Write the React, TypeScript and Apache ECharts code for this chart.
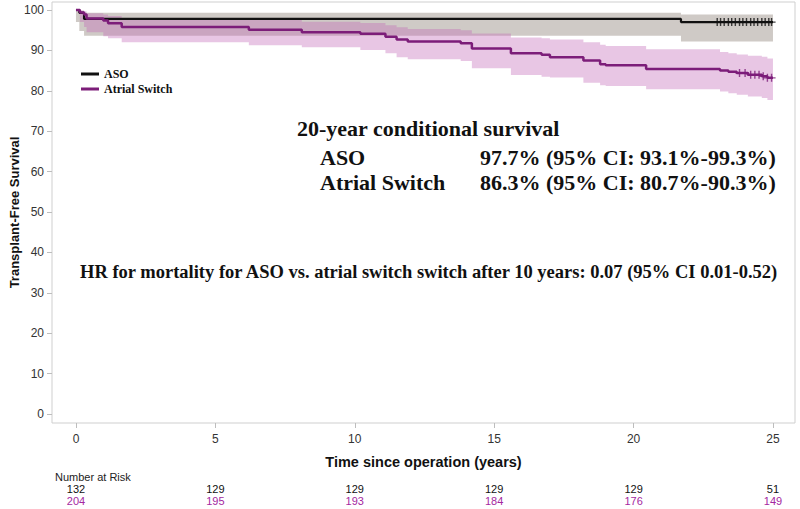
import React, { useEffect, useRef } from "react";
import * as echarts from "echarts";

// ---- Data ----
const xTicks = [0, 5, 10, 15, 20, 25];
const yTicks = [0, 10, 20, 30, 40, 50, 60, 70, 80, 90, 100];

// ASO Kaplan-Meier estimate
const asoTime = [0, 0.12, 0.29, 21.7, 25];
const asoSurv = [100, 99.3, 97.8, 97.0, 97.0];
const asoLower = [97.0, 94.8, 93.6, 92.2, 92.2];
const asoUpper = [100, 99.8, 99.3, 98.9, 98.9];
const asoCensor = [23.0, 23.12, 23.25, 23.4, 23.52, 23.65, 23.8, 23.92, 24.05, 24.2, 24.32, 24.45, 24.6, 24.72, 24.85, 24.95];

// Atrial switch Kaplan-Meier estimate
const asTime = [0, 0.14, 0.29, 0.38, 0.98, 1.15, 1.64, 6.2, 8.1, 10.2, 11.1, 11.5, 11.9, 13.8, 14.2, 15.6, 16.7, 17.0, 18.2, 18.8, 19.0, 20.45, 23.1, 23.4, 23.7, 24.1, 24.6, 24.8, 25.0];
const asSurv = [100, 99.4, 98.9, 97.9, 97.4, 96.7, 95.8, 95.1, 94.5, 94.1, 93.4, 92.7, 92.2, 91.75, 90.5, 89.3, 88.9, 88.3, 87.5, 86.6, 86.3, 85.4, 85.0, 84.7, 84.4, 84.0, 83.6, 83.2, 83.2];
const asUpper = [100, 99.9, 99.7, 99.2, 98.9, 98.5, 97.9, 97.5, 97.1, 96.8, 96.2, 95.7, 95.3, 95.0, 94.2, 93.2, 93.0, 92.7, 92.0, 91.4, 91.1, 90.3, 89.6, 89.3, 89.0, 88.7, 88.4, 88.0, 88.0];
const asLower = [100, 97.0, 95.8, 94.5, 93.5, 93.0, 92.0, 91.3, 90.8, 90.1, 89.3, 88.3, 87.8, 87.4, 85.6, 83.9, 83.5, 83.3, 82.0, 81.4, 81.2, 80.4, 79.8, 79.4, 79.0, 78.6, 78.2, 77.7, 77.7];
const asCensor = [23.8, 24.0, 24.2, 24.35, 24.5, 24.65, 24.8, 24.95];

// Number at risk
const riskASO = [132, 129, 129, 129, 129, 51];
const riskAS = [204, 195, 193, 184, 176, 149];

const BLACK = "#111111";
const PURPLE = "#7c1d79";
const RISK_PURPLE = "#a4289f";
const SERIF = "'Liberation Serif', 'Times New Roman', serif";
const SANS = "'Liberation Sans Narrow', 'Arial Narrow', 'Liberation Sans', Arial, sans-serif";
const SANS_B = "'Liberation Sans', Arial, sans-serif";

function stepAt(times: number[], vals: number[], t: number) {
  let v = vals[0];
  for (let i = 0; i < times.length; i++) if (times[i] <= t) v = vals[i];
  return v;
}

const pairs = (t: number[], v: number[]) => t.map((x, i) => [x, v[i]]);
const bandRows = (t: number[], lo: number[], hi: number[]) => t.map((x, i) => [x, lo[i], hi[i]]);

const X_MIN = -0.86;
const X_MAX = 25.79;

const plusSymbol = "path://M-0.7,-4H0.7V-0.7H4V0.7H0.7V4H-0.7V0.7H-4V-0.7H-0.7Z";

function bandSeries(name: string, rows: number[][], fill: string) {
  return {
    name,
    type: "custom",
    silent: true,
    data: rows,
    encode: { x: 0, y: [1, 2] },
    z: 1,
    renderItem: (params: any, api: any) => {
      if (params.dataIndex !== 0) return null;
      const top: number[][] = [];
      const bottom: number[][] = [];
      for (let i = 0; i < rows.length; i++) {
        const t0 = rows[i][0];
        const t1 = i + 1 < rows.length ? rows[i + 1][0] : rows[i][0];
        top.push(api.coord([t0, rows[i][2]]));
        top.push(api.coord([t1, rows[i][2]]));
        bottom.push(api.coord([t0, rows[i][1]]));
        bottom.push(api.coord([t1, rows[i][1]]));
      }
      const points = top.concat(bottom.reverse());
      return { type: "polygon", shape: { points }, style: { fill } };
    },
  };
}

export default function App() {
  const ref = useRef<HTMLDivElement>(null);
  useEffect(() => {
    if (!ref.current) return;
    const chart = echarts.init(ref.current, undefined, { renderer: "svg" });
    const riskAxis = (offset: number, values: number[], color: string) => ({
      type: "value",
      gridIndex: 0,
      position: "bottom",
      offset,
      min: X_MIN,
      max: X_MAX,
      axisLine: { show: false, onZero: false },
      axisTick: { show: false },
      splitLine: { show: false },
      axisLabel: {
        customValues: xTicks,
        formatter: (v: number) => String(values[xTicks.indexOf(Math.round(v))]),
        color,
        fontSize: 11,
        fontFamily: SANS,
        margin: 0,
      },
    });
    chart.setOption({
      animation: false,
      backgroundColor: "#ffffff",
      grid: {
        left: 52,
        right: 5,
        top: 2,
        bottom: 86,
        show: true,
        borderColor: "#cfcfcf",
        borderWidth: 1,
        backgroundColor: "transparent",
        outerBoundsMode: "none",
        containLabel: false,
      },
      legend: {
        data: ["ASO", "Atrial Switch"],
        orient: "vertical",
        left: 76,
        top: 63,
        itemWidth: 18,
        itemHeight: 3,
        itemGap: 3,
        icon: "rect",
        textStyle: { fontFamily: SERIF, fontWeight: "bold", fontSize: 12, color: "#111" },
      },
      xAxis: [
        {
          type: "value",
          position: "bottom",
          min: X_MIN,
          max: X_MAX,
          name: "Time since operation (years)",
          nameLocation: "middle",
          nameGap: 31,
          nameMoveOverlap: false,
          nameTextStyle: { fontFamily: SANS_B, fontWeight: "bold", fontSize: 14.5, color: "#111" },
          axisLine: { show: false, onZero: false },
          splitLine: { show: false },
          axisTick: { show: true, inside: false, customValues: xTicks, length: 5, lineStyle: { color: "#bdbdbd" } },
          axisLabel: { customValues: xTicks, color: "#333", fontSize: 12, fontFamily: SANS, margin: 10 },
        },
        riskAxis(60, riskASO, "#111"),
        riskAxis(72, riskAS, RISK_PURPLE),
      ],
      yAxis: {
        type: "value",
        position: "left",
        min: -2.23,
        max: 101.98,
        name: "Transplant-Free Survival",
        nameLocation: "middle",
        nameGap: 31,
        nameMoveOverlap: false,
        nameTextStyle: { fontFamily: SANS_B, fontWeight: "bold", fontSize: 13, color: "#111" },
        axisLine: { show: false, onZero: false },
        splitLine: { show: false },
        axisTick: { show: true, inside: false, customValues: yTicks, length: 5, lineStyle: { color: "#bdbdbd" } },
        axisLabel: { customValues: yTicks, color: "#333", fontSize: 12, fontFamily: SANS, margin: 8 },
      },
      series: [
        bandSeries("asoCI", bandRows(asoTime, asoLower, asoUpper), "rgba(145,135,125,0.44)"),
        bandSeries("asCI", bandRows(asTime, asLower, asUpper), "rgba(195,105,185,0.38)"),
        {
          name: "ASO",
          type: "line",
          step: "end",
          data: pairs(asoTime, asoSurv),
          showSymbol: false,
          symbol: "none",
          color: BLACK,
          lineStyle: { color: BLACK, width: 2.2 },
          z: 5,
        },
        {
          name: "Atrial Switch",
          type: "line",
          step: "end",
          data: pairs(asTime, asSurv),
          showSymbol: false,
          symbol: "none",
          color: PURPLE,
          lineStyle: { color: PURPLE, width: 2.5 },
          z: 5,
        },
        {
          name: "asoCensor",
          type: "scatter",
          data: asoCensor.map((t) => [t, stepAt(asoTime, asoSurv, t)]),
          symbol: plusSymbol,
          symbolSize: 8,
          itemStyle: { color: BLACK },
          z: 6,
          silent: true,
        },
        {
          name: "asCensor",
          type: "scatter",
          data: asCensor.map((t) => [t, stepAt(asTime, asSurv, t)]),
          symbol: plusSymbol,
          symbolSize: 8,
          itemStyle: { color: PURPLE },
          z: 6,
          silent: true,
        },
      ],
      graphic: [
        {
          type: "text",
          x: 297,
          y: 128,
          style: { text: "20-year conditional survival", fontFamily: SERIF, fontWeight: "bold", fontSize: 22, fill: "#111", verticalAlign: "middle" },
        },
        {
          type: "text",
          x: 320,
          y: 157,
          style: { text: "ASO", fontFamily: SERIF, fontWeight: "bold", fontSize: 22, fill: "#111", verticalAlign: "middle" },
        },
        {
          type: "text",
          x: 480,
          y: 157,
          style: { text: "97.7% (95% CI: 93.1%-99.3%)", fontFamily: SERIF, fontWeight: "bold", fontSize: 22, fill: "#111", verticalAlign: "middle" },
        },
        {
          type: "text",
          x: 320,
          y: 182,
          style: { text: "Atrial Switch", fontFamily: SERIF, fontWeight: "bold", fontSize: 22, fill: "#111", verticalAlign: "middle" },
        },
        {
          type: "text",
          x: 480,
          y: 182,
          style: { text: "86.3% (95% CI: 80.7%-90.3%)", fontFamily: SERIF, fontWeight: "bold", fontSize: 22, fill: "#111", verticalAlign: "middle" },
        },
        {
          type: "text",
          x: 80,
          y: 272,
          style: {
            text: "HR for mortality for ASO vs. atrial switch switch after 10 years: 0.07 (95% CI 0.01-0.52)",
            fontFamily: SERIF,
            fontWeight: "bold",
            fontSize: 18.5,
            fill: "#111",
            verticalAlign: "middle",
          },
        },
        {
          type: "text",
          x: 55,
          y: 477,
          style: { text: "Number at Risk", fontFamily: SANS, fontSize: 11, fill: "#222", verticalAlign: "middle" },
        },
      ],
    });
    return () => chart.dispose();
  }, []);
  return (
    <div
      ref={ref}
      style={{ position: "fixed", left: 0, top: 0, width: 800, height: 509, background: "#fff" }}
    />
  );
}
